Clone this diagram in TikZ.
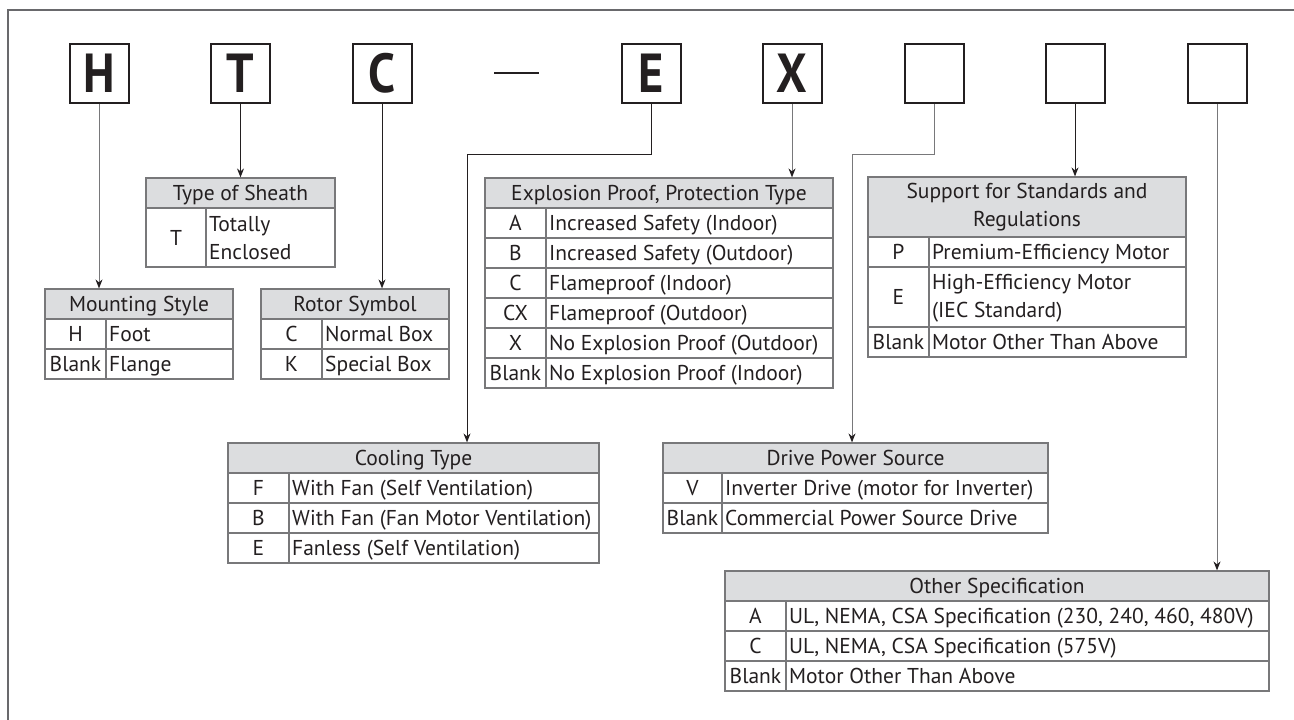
\documentclass[tikz,border=0pt]{standalone}
\usepackage{fontspec}
\setmainfont{PT Sans}
\newfontfamily\codefont{PT Sans}[FakeStretch=0.88]
\usetikzlibrary{arrows.meta,positioning,calc}
\definecolor{cInk}{RGB}{35,31,32}
\definecolor{cLine}{RGB}{120,120,122}
\definecolor{cHead}{RGB}{220,221,223}
\definecolor{cFrame}{RGB}{105,105,108}
\newcommand{\tabfont}{\fontsize{21.5}{28}\selectfont}
\tikzset{
  code/.style={draw=cInk, line width=2pt, minimum width=59pt, minimum height=59pt,
               inner sep=0pt, text=cInk, text height=38pt, text depth=0pt,
               font=\codefont\bfseries\fontsize{55}{55}\selectfont},
  head/.style={draw=cLine, fill=cHead, line width=1.2pt, inner sep=0pt,
               align=center, font=\tabfont, text=cInk},
  head1/.style={head, text height=15pt, text depth=0pt},
  cell/.style={draw=cLine, line width=1.2pt},
  key/.style={inner sep=0pt, font=\tabfont, text=cInk, text height=15pt, text depth=0pt},
  desc/.style={key, anchor=west},
  desc2/.style={anchor=west, inner sep=0pt, align=left, font=\tabfont, text=cInk},
  ar/.style={-{Stealth[length=9pt, width=7pt, inset=3pt, color=cInk]}, draw=cInk, line width=1pt},
  arg/.style={ar, draw=cLine},
}
% rows of a table: {x left}{x divider}{x right}{y top}{key/text list}
\newcommand{\tabrows}[5]{%
  \foreach \k/\d [count=\i] in {#5} {
    \draw[cell] (#1,{#4+30*(\i-1)}) rectangle (#3,{#4+30*\i});
    \draw[cell] (#2,{#4+30*(\i-1)}) -- (#2,{#4+30*\i});
    \node[key] at ({(#1+#2)/2},{#4+30*\i-15}) {\k};
    \node[desc] at ({#2+3},{#4+30*\i-15}) {\d};
  }}

\begin{document}
\begin{tikzpicture}[x=1pt, y=-1pt]
\useasboundingbox (0,0) rectangle (1294,720);
% frame
\draw[draw=cFrame, line width=1.7pt] (8,720) -- (8,10) -- (1294,10);

% model code boxes
\foreach \c/\xx/\nm in {H/99/cH, T/240.5/cT, C/382/cC, E/651/cE, X/792/cX,
                        {}/934/cV, {}/1075/cP, {}/1217/cA}
  \node[code] (\nm) at (\xx,73.5) {\c};
\draw[draw=cInk, line width=1.2pt] (494,73) -- (539,73);

% type of sheath
\node[head1, minimum width=189pt, minimum height=30pt] (sheath) at (240.5,193) {Type of Sheath};
\draw[cell] (146,208) rectangle (335,267);
\draw[cell] (206,208) -- (206,267);
\node[key] at (176,237.5) {T};
\node[desc2] at (209,238) {Totally\\Enclosed};

% mounting style, rotor symbol
\node[head1, minimum width=188pt, minimum height=30pt] (mount) at (139,304) {Mounting Style};
\tabrows{45}{106}{233}{319}{H/Foot, Blank/Flange}
\node[head1, minimum width=188pt, minimum height=30pt] (rotor) at (355,304) {Rotor Symbol};
\tabrows{261}{322}{449}{319}{C/Normal Box, K/Special Box}

% explosion proof
\node[head1, minimum width=348pt, minimum height=30pt] (expl) at (659,193) {Explosion Proof, Protection Type};
\tabrows{485}{546}{833}{208}{A/Increased Safety (Indoor), B/Increased Safety (Outdoor),
  C/Flameproof (Indoor), CX/Flameproof (Outdoor), X/No Explosion Proof (Outdoor),
  Blank/No Explosion Proof (Indoor)}

% standards
\node[head, minimum width=318pt, minimum height=60pt] (stand) at (1027,207) {Support for Standards and\\Regulations};
\tabrows{868}{929}{1186}{237}{P/Premium-Efficiency Motor}
\draw[cell] (868,267) rectangle (1186,327);
\draw[cell] (929,267) -- (929,327);
\node[key] at (898.5,297) {E};
\node[desc2] at (932,298) {High-Efficiency Motor\\(IEC Standard)};
\tabrows{868}{929}{1186}{327}{Blank/Motor Other Than Above}

% cooling, drive power
\node[head1, minimum width=371pt, minimum height=30pt] (cool) at (413.5,458) {Cooling Type};
\tabrows{228}{289}{599}{473}{F/With Fan (Self Ventilation), B/With Fan (Fan Motor Ventilation),
  E/Fanless (Self Ventilation)}
\node[head1, minimum width=385pt, minimum height=30pt] (drive) at (855.5,458) {Drive Power Source};
\tabrows{663}{722}{1048}{473}{V/Inverter Drive (motor for Inverter), Blank/Commercial Power Source Drive}

% other specification
\node[head1, minimum width=544pt, minimum height=30pt] (other) at (997,586) {Other Specification};
\tabrows{725}{786}{1269}{601}{A/{UL, NEMA, CSA Specification (230, 240, 460, 480V)},
  C/{UL, NEMA, CSA Specification (575V)}, Blank/Motor Other Than Above}

% connectors
\draw[arg] (cH.south) -- (cH.south |- mount.north);
\draw[ar] (cT.south) -- (cT.south |- sheath.north);
\draw[ar] (cC.south) -- (cC.south |- rotor.north);
\draw[ar] (cE.south) -- ++(0,50) -| ([xshift=53.5pt]cool.north);
\draw[arg] (cX.south) -- (cX.south |- expl.north);
\draw[arg] (cV.south) -- ++(0,50) -| ([xshift=-3.5pt]drive.north);
\draw[ar] (cP.south) -- (cP.south |- stand.north);
\draw[arg] (cA.south) -- (cA.south |- other.north);
\end{tikzpicture}
\end{document}
